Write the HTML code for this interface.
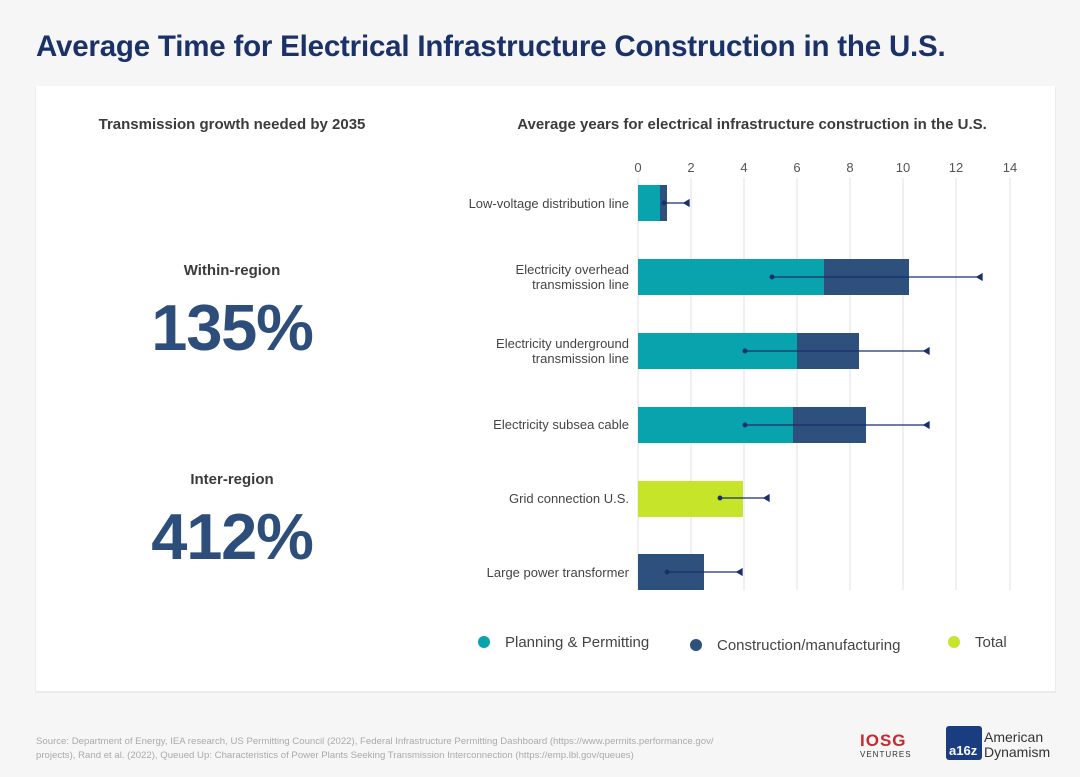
<!DOCTYPE html>
<html><head><meta charset="utf-8"><style>
html,body{margin:0;padding:0;background:#f6f6f7;}
svg{display:block;font-family:"Liberation Sans",sans-serif;}
</style></head><body>
<svg width="1080" height="777" viewBox="0 0 1080 777">
<rect width="1080" height="777" fill="#f6f6f7"/>
<text x="36" y="56" font-size="29.5" font-weight="bold" fill="#1b3268" letter-spacing="-0.2">Average Time for Electrical Infrastructure Construction in the U.S.</text>
<rect x="35" y="87" width="1021" height="606" fill="#ebebec"/>
<rect x="36" y="86" width="1019" height="605" fill="#ffffff"/>
<text x="232" y="129" font-size="15" font-weight="bold" fill="#3b3b3b" text-anchor="middle">Transmission growth needed by 2035</text>
<text x="232" y="275" font-size="15" font-weight="bold" fill="#3b3b3b" text-anchor="middle">Within-region</text>
<text x="232" y="350" font-size="65" font-weight="bold" fill="#2d4e7a" text-anchor="middle" letter-spacing="-1.2">135%</text>
<text x="232" y="484" font-size="15" font-weight="bold" fill="#3b3b3b" text-anchor="middle">Inter-region</text>
<text x="232" y="559" font-size="65" font-weight="bold" fill="#2d4e7a" text-anchor="middle" letter-spacing="-1.2">412%</text>
<text x="752" y="129" font-size="15" font-weight="bold" fill="#3b3b3b" text-anchor="middle">Average years for electrical infrastructure construction in the U.S.</text>
<g stroke="#e2e2e2" stroke-width="1">
<line x1="638" y1="178" x2="638" y2="590"/><line x1="691" y1="178" x2="691" y2="590"/><line x1="744" y1="178" x2="744" y2="590"/><line x1="797" y1="178" x2="797" y2="590"/><line x1="850" y1="178" x2="850" y2="590"/><line x1="903" y1="178" x2="903" y2="590"/><line x1="956" y1="178" x2="956" y2="590"/><line x1="1010" y1="178" x2="1010" y2="590"/>
</g>
<g font-size="13" fill="#555" text-anchor="middle">
<text x="638" y="172">0</text><text x="691" y="172">2</text><text x="744" y="172">4</text><text x="797" y="172">6</text><text x="850" y="172">8</text><text x="903" y="172">10</text><text x="956" y="172">12</text><text x="1010" y="172">14</text>
</g>
<g font-size="13" fill="#444" text-anchor="end">
<text x="629" y="208">Low-voltage distribution line</text>
<text x="629" y="274">Electricity overhead</text><text x="629" y="289">transmission line</text>
<text x="629" y="348">Electricity underground</text><text x="629" y="363">transmission line</text>
<text x="629" y="429">Electricity subsea cable</text>
<text x="629" y="503">Grid connection U.S.</text>
<text x="629" y="577">Large power transformer</text>
</g>
<rect x="638" y="185" width="22" height="36" fill="#09a3ae"/><rect x="660" y="185" width="7" height="36" fill="#2d517c"/>
<rect x="638" y="259" width="186" height="36" fill="#09a3ae"/><rect x="824" y="259" width="85" height="36" fill="#2d517c"/>
<rect x="638" y="333" width="159" height="36" fill="#09a3ae"/><rect x="797" y="333" width="62" height="36" fill="#2d517c"/>
<rect x="638" y="407" width="155" height="36" fill="#09a3ae"/><rect x="793" y="407" width="73" height="36" fill="#2d517c"/>
<rect x="638" y="481" width="105" height="36" fill="#c6e52a"/>
<rect x="638" y="554" width="66" height="36" fill="#2d517c"/>
<g stroke="#1b2f6b" stroke-width="1.3" fill="#1b2f6b">
<line x1="664" y1="203" x2="689" y2="203"/><circle cx="664" cy="203" r="1.8"/><path d="M689 200 L689 206 L684 203Z"/>
<line x1="772" y1="277" x2="982" y2="277"/><circle cx="772" cy="277" r="1.8"/><path d="M982 274 L982 280 L977 277Z"/>
<line x1="745" y1="351" x2="929" y2="351"/><circle cx="745" cy="351" r="1.8"/><path d="M929 348 L929 354 L924 351Z"/>
<line x1="745" y1="425" x2="929" y2="425"/><circle cx="745" cy="425" r="1.8"/><path d="M929 422 L929 428 L924 425Z"/>
<line x1="720" y1="498" x2="769" y2="498"/><circle cx="720" cy="498" r="1.8"/><path d="M769 495 L769 501 L764 498Z"/>
<line x1="667" y1="572" x2="742" y2="572"/><circle cx="667" cy="572" r="1.8"/><path d="M742 569 L742 575 L737 572Z"/>
</g>
<circle cx="484" cy="642" r="6" fill="#09a3ae"/>
<text x="505" y="647" font-size="15" fill="#444">Planning &amp; Permitting</text>
<circle cx="696" cy="645" r="6" fill="#2d517c"/>
<text x="717" y="650" font-size="15" fill="#444">Construction/manufacturing</text>
<circle cx="954" cy="642" r="6" fill="#c6e52a"/>
<text x="975" y="647" font-size="15" fill="#444">Total</text>
<text x="36" y="744" font-size="9.6" fill="#aaa">Source: Department of Energy, IEA research, US Permitting Council (2022), Federal Infrastructure Permitting Dashboard (https://www.permits.performance.gov/</text>
<text x="36" y="758" font-size="9.6" fill="#aaa">projects), Rand et al. (2022), Queued Up: Characteristics of Power Plants Seeking Transmission Interconnection (https://emp.lbl.gov/queues)</text>
<text x="860" y="746" font-size="17" font-weight="bold" fill="#c8282e" letter-spacing="1">IOSG</text>
<text x="860" y="757" font-size="8" fill="#333" letter-spacing="1">VENTURES</text>
<rect x="946" y="726" width="36" height="34" rx="3" fill="#1a3d82"/>
<text x="949" y="755" font-size="13" font-weight="bold" fill="#fff">a16z</text>
<text x="984" y="742" font-size="14" fill="#333">American</text>
<text x="984" y="757" font-size="14" fill="#333">Dynamism</text>
</svg>
</body></html>
